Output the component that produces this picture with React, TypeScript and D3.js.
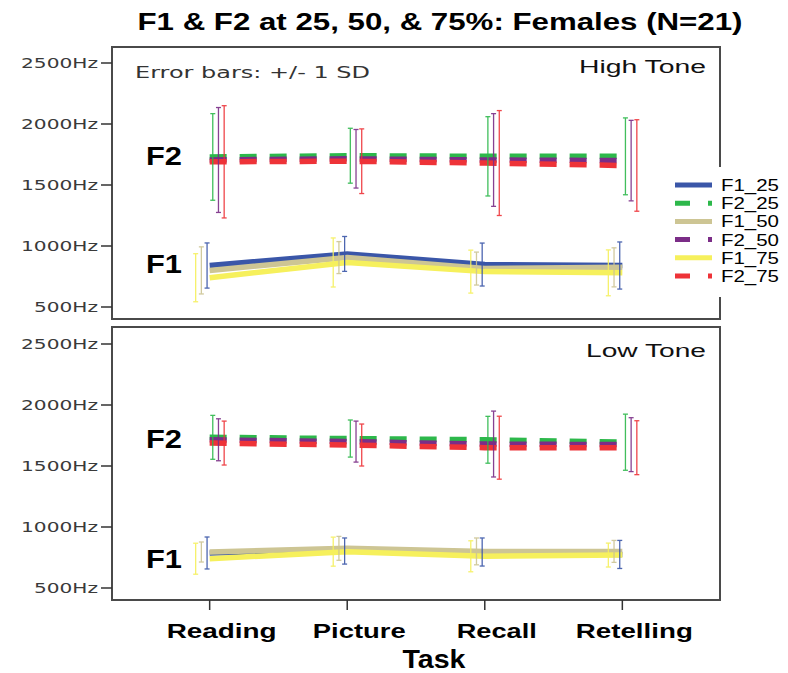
import React, { useRef, useEffect } from 'react';
import * as d3 from 'd3';

// categories and series
const tasks = ['Reading', 'Picture', 'Recall', 'Retelling'];
const seriesNames = ['F1_25', 'F2_25', 'F1_50', 'F2_50', 'F1_75', 'F2_75'];
const seriesColors = ['#3a56a8', '#2db84b', '#cdc594', '#7b2d87', '#f6f05c', '#ee3338'];
// order of error bars from left to right inside a task
const dodgeOrder = ['F1_75', 'F1_50', 'F1_25', 'F2_25', 'F2_50', 'F2_75'];
const yTicks = [500, 1000, 1500, 2000, 2500];

// High Tone means (Hz)
const highF1_25 = [840, 935, 848, 840];
const highF2_25 = [1730, 1740, 1735, 1735];
const highF1_50 = [800, 905, 815, 825];
const highF2_50 = [1705, 1715, 1705, 1700];
const highF1_75 = [740, 865, 790, 780];
const highF2_75 = [1690, 1695, 1680, 1660];
// High Tone SDs
const highF1_25sd = [185, 143, 176, 193];
const highF2_25sd = [355, 225, 325, 315];
const highF1_50sd = [193, 131, 135, 160];
const highF2_50sd = [430, 240, 380, 330];
const highF1_75sd = [197, 201, 176, 188];
const highF2_75sd = [460, 265, 430, 375];

// Low Tone means (Hz)
const lowF1_25 = [787, 803, 795, 775];
const lowF2_25 = [1735, 1725, 1715, 1695];
const lowF1_50 = [795, 825, 800, 800];
const lowF2_50 = [1715, 1700, 1680, 1675];
const lowF1_75 = [740, 798, 760, 770];
const lowF2_75 = [1688, 1672, 1650, 1650];
// Low Tone SDs
const lowF1_25sd = [131, 107, 115, 115];
const lowF2_25sd = [180, 152, 192, 230];
const lowF1_50sd = [82, 98, 110, 90];
const lowF2_50sd = [172, 168, 270, 221];
const lowF1_75sd = [127, 119, 127, 98];
const lowF2_75sd = [180, 172, 258, 221];

const panels = [
  {
    name: 'High Tone',
    top: 47, bottom: 319, yTop: 63, yBottom: 307,
    means: [highF1_25, highF2_25, highF1_50, highF2_50, highF1_75, highF2_75],
    sds: [highF1_25sd, highF2_25sd, highF1_50sd, highF2_50sd, highF1_75sd, highF2_75sd],
  },
  {
    name: 'Low Tone',
    top: 327, bottom: 600, yTop: 344, yBottom: 588,
    means: [lowF1_25, lowF2_25, lowF1_50, lowF2_50, lowF1_75, lowF2_75],
    sds: [lowF1_25sd, lowF2_25sd, lowF1_50sd, lowF2_50sd, lowF1_75sd, lowF2_75sd],
  },
];

const App = () => {
  const svgRef = useRef<SVGSVGElement>(null);

  useEffect(() => {
    const svg = d3.select(svgRef.current);
    svg.selectAll('*').remove();

    const left = 112;
    const right = 720;

    const x = d3.scalePoint<string>().domain(tasks).range([left, right]).padding(0.71);
    const dodge = d3.scalePoint<string>().domain(dodgeOrder).range([-14, 14.5]);

    // title
    svg.append('text')
      .attr('x', 440).attr('y', 30)
      .attr('text-anchor', 'middle')
      .attr('font-family', 'Liberation Sans, Arial, sans-serif')
      .attr('font-weight', 'bold')
      .attr('font-size', 23)
      .attr('textLength', 605)
      .attr('lengthAdjust', 'spacingAndGlyphs')
      .text('F1 & F2 at 25, 50, & 75%: Females (N=21)');

    panels.forEach((p, pi) => {
      const y = d3.scaleLinear().domain([500, 2500]).range([p.yBottom, p.yTop]);
      const g = svg.append('g');

      // frame
      g.append('rect')
        .attr('x', left).attr('y', p.top)
        .attr('width', right - left).attr('height', p.bottom - p.top)
        .attr('fill', 'none')
        .attr('stroke', '#4a4a4a')
        .attr('stroke-width', 2);

      // y ticks
      yTicks.forEach(t => {
        g.append('line')
          .attr('x1', left - 11).attr('x2', left)
          .attr('y1', y(t)).attr('y2', y(t))
          .attr('stroke', '#333').attr('stroke-width', 1.5);
        const label = `${t}Hz`;
        g.append('text')
          .attr('x', left - 14).attr('y', y(t) + 5)
          .attr('text-anchor', 'end')
          .attr('font-family', 'DejaVu Sans, Verdana, sans-serif')
          .attr('font-size', 14)
          .attr('fill', '#3a3a3a')
          .attr('textLength', label.length === 6 ? 77 : 64)
          .attr('lengthAdjust', 'spacingAndGlyphs')
          .text(label);
      });

      // lines
      const line = d3.line<number>()
        .x((d, i) => x(tasks[i]) as number)
        .y(d => y(d));

      seriesNames.forEach((s, si) => {
        const isF2 = s.startsWith('F2');
        g.append('path')
          .datum(p.means[si])
          .attr('d', line)
          .attr('fill', 'none')
          .attr('stroke', seriesColors[si])
          .attr('stroke-width', 5.5)
          .attr('stroke-dasharray', isF2 ? '17,13' : null);
      });

      // error bars
      seriesNames.forEach((s, si) => {
        p.means[si].forEach((m, ti) => {
          const cx = (x(tasks[ti]) as number) + (dodge(s) as number);
          const lo = y(m - p.sds[si][ti]);
          const hi = y(m + p.sds[si][ti]);
          const eb = g.append('g')
            .attr('stroke', seriesColors[si])
            .attr('stroke-width', 1.3)
            .attr('opacity', 0.9);
          eb.append('line').attr('x1', cx).attr('x2', cx).attr('y1', lo).attr('y2', hi);
          eb.append('line').attr('x1', cx - 2.5).attr('x2', cx + 2.5).attr('y1', lo).attr('y2', lo);
          eb.append('line').attr('x1', cx - 2.5).attr('x2', cx + 2.5).attr('y1', hi).attr('y2', hi);
        });
      });

      // formant labels
      const f2y = y(d3.mean(p.means[1]) as number) + 9;
      const f1y = y(d3.mean(p.means[0]) as number) + (pi === 0 ? 11 : 15);
      [['F2', f2y], ['F1', f1y]].forEach(([txt, ty]) => {
        g.append('text')
          .attr('x', 146).attr('y', ty as number)
          .attr('font-family', 'Liberation Sans, Arial, sans-serif')
          .attr('font-weight', 'bold')
          .attr('font-size', 25)
          .attr('textLength', 36)
          .attr('lengthAdjust', 'spacingAndGlyphs')
          .text(txt as string);
      });

      // panel label
      g.append('text')
        .attr('x', 706).attr('y', p.top + (pi === 0 ? 26 : 30))
        .attr('text-anchor', 'end')
        .attr('font-family', 'Liberation Sans, Arial, sans-serif')
        .attr('font-size', 18)
        .attr('fill', '#111')
        .attr('textLength', pi === 0 ? 127 : 120)
        .attr('lengthAdjust', 'spacingAndGlyphs')
        .text(p.name);

      if (pi === 0) {
        g.append('text')
          .attr('x', 135).attr('y', 78)
          .attr('font-family', 'DejaVu Sans, Verdana, sans-serif')
          .attr('font-size', 15)
          .attr('fill', '#333')
          .attr('textLength', 235)
          .attr('lengthAdjust', 'spacingAndGlyphs')
          .text('Error bars: +/- 1 SD');
      }
    });

    // x axis ticks and labels
    const labelWidths = [110, 93, 80, 117];
    tasks.forEach((t, i) => {
      const tx = x(t) as number;
      svg.append('line')
        .attr('x1', tx).attr('x2', tx)
        .attr('y1', 600).attr('y2', 610)
        .attr('stroke', '#333').attr('stroke-width', 1.5);
      svg.append('text')
        .attr('x', tx + 12).attr('y', 638)
        .attr('text-anchor', 'middle')
        .attr('font-family', 'Liberation Sans, Arial, sans-serif')
        .attr('font-weight', 'bold')
        .attr('font-size', 21)
        .attr('textLength', labelWidths[i])
        .attr('lengthAdjust', 'spacingAndGlyphs')
        .text(t);
    });

    svg.append('text')
      .attr('x', 434).attr('y', 668)
      .attr('text-anchor', 'middle')
      .attr('font-family', 'Liberation Sans, Arial, sans-serif')
      .attr('font-weight', 'bold')
      .attr('font-size', 25)
      .attr('textLength', 63)
      .attr('lengthAdjust', 'spacingAndGlyphs')
      .text('Task');

    // legend, its white box hides part of the panel border
    const legend = svg.append('g').attr('transform', 'translate(675,185)');
    legend.append('rect')
      .attr('x', -5).attr('y', -18)
      .attr('width', 118).attr('height', 130)
      .attr('fill', '#fff');
    seriesNames.forEach((s, i) => {
      const isF2 = s.startsWith('F2');
      legend.append('line')
        .attr('x1', 0).attr('x2', 37)
        .attr('y1', i * 18.2).attr('y2', i * 18.2)
        .attr('stroke', seriesColors[i])
        .attr('stroke-width', 5)
        .attr('stroke-dasharray', isF2 ? '15,18' : null);
      legend.append('text')
        .attr('x', 46).attr('y', i * 18.2 + 6)
        .attr('font-family', 'Liberation Sans, Arial, sans-serif')
        .attr('font-size', 16)
        .attr('textLength', 58)
        .attr('lengthAdjust', 'spacingAndGlyphs')
        .text(s);
    });
  }, []);

  return (
    <svg
      ref={svgRef}
      width={788}
      height={673}
      style={{ position: 'absolute', left: 0, top: 0, background: '#fff' }}
    />
  );
};

export default App;
